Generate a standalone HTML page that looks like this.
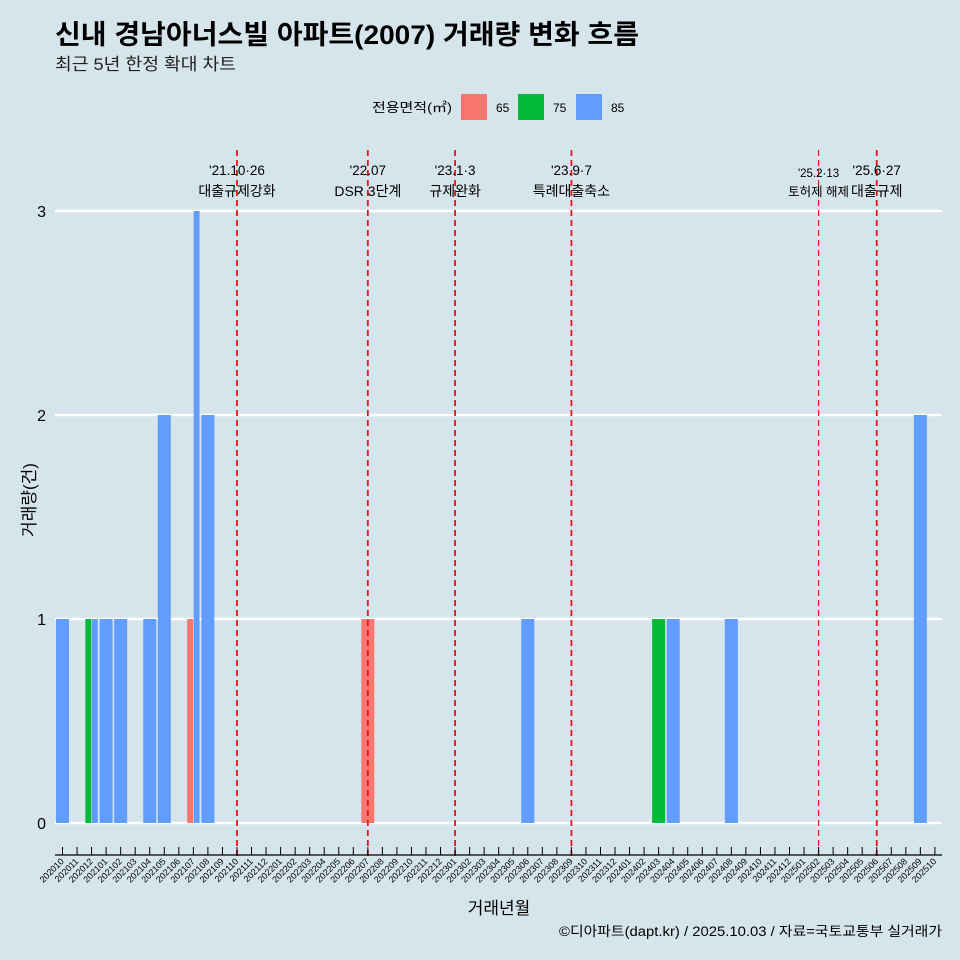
<!DOCTYPE html>
<html><head><meta charset="utf-8"><style>
body{margin:0;background:#d6e4eb;}
svg{display:block;font-family:"Liberation Sans","Noto Sans CJK KR",sans-serif;}
</style></head><body>
<svg id="c" width="960" height="960">
<rect width="960" height="960" fill="#d6e4eb"/>
<text x="55" y="44" font-size="27" font-weight="bold" fill="#000" textLength="584" lengthAdjust="spacingAndGlyphs">신내 경남아너스빌 아파트(2007) 거래량 변화 흐름</text>
<text x="55" y="70" font-size="17" fill="#222" textLength="181" lengthAdjust="spacingAndGlyphs">최근 5년 한정 확대 차트</text>
<g>
<text x="372" y="112" font-size="13" textLength="80" lengthAdjust="spacingAndGlyphs">전용면적(㎡)</text>
<rect x="461" y="94" width="26" height="26" fill="#f8766d"/>
<text x="496" y="112" font-size="12">65</text>
<rect x="518" y="94" width="26" height="26" fill="#00ba38"/>
<text x="553" y="112" font-size="12">75</text>
<rect x="576" y="94" width="26" height="26" fill="#619cff"/>
<text x="611" y="112" font-size="12">85</text>
</g>
<g id="grid"></g><g id="bars"></g><g id="events"></g><g id="xaxis"></g>
<text transform="translate(35,500) rotate(-90)" text-anchor="middle" font-size="17">거래량(건)</text>
<text x="499" y="914" text-anchor="middle" font-size="17">거래년월</text>
<text x="942" y="936" text-anchor="end" font-size="13.5" textLength="383" lengthAdjust="spacingAndGlyphs">©디아파트(dapt.kr) / 2025.10.03 / 자료=국토교통부 실거래가</text>
</svg>
<script>
const months=[];for(let y=2020,m=10;y*100+m<=202510;m++){if(m>12){m=1;y++;}months.push(''+y+String(m).padStart(2,'0'));}
const yTicks=[0,1,2,3];
const barMonths=['202010','202012','202012','202101','202102','202104','202105','202107','202107','202108','202207','202306','202403','202404','202408','202509'];
const barSizes=['85','75','85','85','85','85','85','65','85','85','65','85','75','85','85','85'];
const barValues=[1,1,1,1,1,1,2,1,3,2,1,1,1,1,1,2];
const eventMonths=['202110','202207','202301','202309','202502','202506'];
const eventDates=["'21.10·26","'22.07","'23.1·3","'23.9·7","'25.2·13","'25.6·27"];
const eventNames=['대출규제강화','DSR 3단계','규제완화','특례대출축소','토허제 해제','대출규제'];
const colors={'65':'#f8766d','75':'#00ba38','85':'#619cff'};
const NS='http://www.w3.org/2000/svg';
const xs=m=>62.5+months.indexOf(m)*14.54;
const ys=v=>823-v*204;
function mk(p,t,a){const e=document.createElementNS(NS,t);for(const k in a)e.setAttribute(k,a[k]);document.getElementById(p).appendChild(e);return e;}
yTicks.forEach(v=>{
 const l=mk('grid','line',{x1:55,x2:942,y1:ys(v),y2:ys(v),stroke:'#fff','stroke-width':2.5});
 
 
 const t=mk('grid','text',{x:46,y:ys(v)+6,'text-anchor':'end','font-size':16});t.textContent=v;
 
 
});
const W=13;
barMonths.forEach((m,i)=>{
 const n=barMonths.filter(x=>x===m).length;const k=barMonths.slice(0,i).filter(x=>x===m).length;
 const w=W/n;const x0=xs(m)-W/2+k*w;
 const r=mk('bars','rect',{x:x0+(n>1?0.3:0),y:ys(barValues[i]),width:w-(n>1?0.6:0),height:ys(0)-ys(barValues[i]),fill:colors[barSizes[i]]});
 
 
});
eventMonths.forEach((m,i)=>{
 const x=xs(m);
 const l=mk('events','line',{x1:x,x2:x,y1:150,y2:856,stroke:'#e8141c','stroke-width':i==4?1.2:1.8,'stroke-dasharray':'6,4'});
 
 
 const t1=mk('events','text',{x:x,y:i==4?177:175,'text-anchor':'middle','font-size':i==4?11.5:13.5});t1.textContent=eventDates[i];
 
 
 const t2=mk('events','text',{x:x,y:196,'text-anchor':'middle','font-size':i==4?12.5:14});t2.textContent=eventNames[i];
 
 
});
const ax=mk('xaxis','line',{x1:55,x2:942,y1:855,y2:855,stroke:'#000','stroke-width':1.2});


months.forEach(m=>{
 const x=xs(m);
 const tk=mk('xaxis','line',{x1:x,x2:x,y1:847,y2:855,stroke:'#000','stroke-width':1});
 
 
 const t=mk('xaxis','text',{x:x+2,y:862,'text-anchor':'end','font-size':9,transform:`rotate(-45 ${x+2} 862)`});t.textContent=m;
 
 
});
</script>
</body></html>
